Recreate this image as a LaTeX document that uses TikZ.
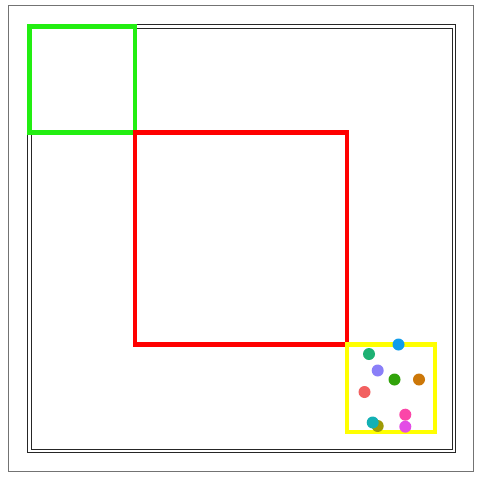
\documentclass[tikz,border=0pt]{standalone}
\begin{document}
\begin{tikzpicture}[x=1pt,y=-1pt,
  frame/.style={draw=gray!90!black,line width=0.9pt},
  border/.style={draw=black!85,line width=0.8pt},
  box/.style={line width=4.5pt},
  dot/.style={circle,inner sep=0pt,minimum size=12pt}]
\useasboundingbox[fill=white] (0,0) rectangle (480,480);
\draw[frame] (8,5.5) rectangle (473,471);
\draw[border] (27.5,24.5) rectangle (455,452);
\draw[border] (31,28) rectangle (452,449);
\definecolor{cgreen}{HTML}{22EE11}
\definecolor{cred}{HTML}{FF0000}
\definecolor{cyellow}{HTML}{FFFF00}
\draw[box,draw=cgreen] (29.5,26.5) rectangle (135,132.5);
\draw[box,draw=cred] (135,132.5) rectangle (347,344.5);
\draw[box,draw=cyellow] (347,344.5) rectangle (435,432);
\definecolor{d1}{HTML}{119DEB}
\definecolor{d2}{HTML}{1DB173}
\definecolor{d3}{HTML}{8A7FF8}
\definecolor{d4}{HTML}{31A30A}
\definecolor{d5}{HTML}{CC7708}
\definecolor{d6}{HTML}{F26060}
\definecolor{d7}{HTML}{13B0B4}
\definecolor{d8}{HTML}{9E9A05}
\definecolor{d9}{HTML}{FB46A8}
\definecolor{d10}{HTML}{E34CE6}
\node[dot,fill=d1] (p1) at (398.5,344.5) {};
\node[dot,fill=d2] (p2) at (369,354) {};
\node[dot,fill=d3] (p3) at (377.7,370.5) {};
\node[dot,fill=d4] (p4) at (394.5,379.5) {};
\node[dot,fill=d5] (p5) at (419,379.5) {};
\node[dot,fill=d6] (p6) at (364.5,392) {};
\node[dot,fill=d8] (p8) at (377.7,426) {};
\node[dot,fill=d7] (p7) at (372.7,422.5) {};
\node[dot,fill=d9] (p9) at (405.3,414.7) {};
\node[dot,fill=d10] (p10) at (405.3,426.7) {};
\end{tikzpicture}
\end{document}
